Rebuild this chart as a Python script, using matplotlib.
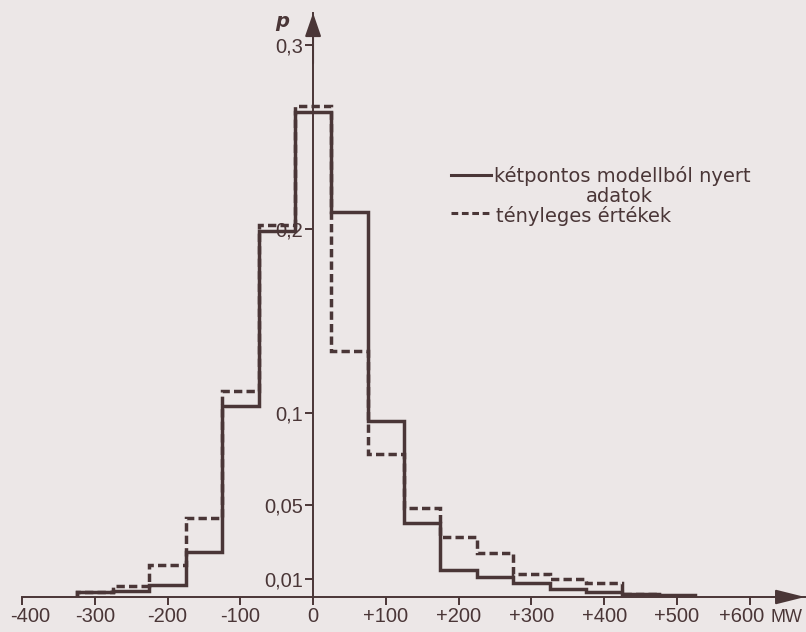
import matplotlib
matplotlib.use("Agg")
import matplotlib.pyplot as plt
import matplotlib.transforms as mtransforms
from matplotlib.lines import Line2D
import numpy as np

# bin edges in MW (50 MW wide bins)
bin_edges = [-325, -275, -225, -175, -125, -75, -25, 25, 75, 125,
             175, 225, 275, 325, 375, 425, 475, 525]

# probability per bin
model_p = [0.0025, 0.0035, 0.0065, 0.0245, 0.104, 0.199, 0.2635, 0.209, 0.0956,
           0.0404, 0.0147, 0.011, 0.0075, 0.0045, 0.0026, 0.0015, 0.0012]
actual_p = [0.0027, 0.006, 0.0176, 0.043, 0.112, 0.2024, 0.2666, 0.1335, 0.0775,
            0.0486, 0.0327, 0.024, 0.0127, 0.0097, 0.0075, 0.0015, 0.0008]

x_ticks = [-400, -300, -200, -100, 0, 100, 200, 300, 400, 500, 600]
x_labels = ["-400", "-300", "-200", "-100", "0", "+100", "+200", "+300",
            "+400", "+500", "+600"]
y_ticks = [0.01, 0.05, 0.1, 0.2, 0.3]
y_labels = ["0,01", "0,05", "0,1", "0,2", "0,3"]

label_model = "kétpontos modellból nyert"
label_model2 = "adatok"
label_actual = "tényleges értékek"

W, H = 806, 632
BG = "#ece7e7"
INK = "#4a3637"
TICK_FONT = ["Liberation Sans", "DejaVu Sans"]


def px(x, y):
    return x / W, 1 - y / H


def shift(artist, fig, dx):
    artist.set_transform(artist.get_transform() +
                         mtransforms.ScaledTranslation(dx / 100, 0, fig.dpi_scale_trans))


def main():
    plt.rcParams["font.family"] = ["DejaVu Sans"]
    fig = plt.figure(figsize=(W / 100, H / 100), dpi=100, facecolor=BG)
    ax = fig.add_axes([22 / W, 35 / H, 783 / W, 584 / H])
    ax.set_facecolor(BG)
    ax.set_xlim(-400, 676)
    ax.set_ylim(0, 0.3174)

    ax.stairs(model_p, bin_edges, baseline=0, color=INK, lw=2.5, zorder=3)
    ax.stairs(actual_p, bin_edges, baseline=0, color=INK, lw=2.5,
              linestyle=(0, (2.4, 1.2)), zorder=4)

    for s in ["top", "right"]:
        ax.spines[s].set_visible(False)
    ax.spines["left"].set_position(("data", 0))
    for s in ["left", "bottom"]:
        ax.spines[s].set_color(INK)
        ax.spines[s].set_linewidth(1.4)

    ax.set_xticks(x_ticks)
    ax.set_xticklabels(x_labels, family=TICK_FONT)
    ax.set_yticks(y_ticks)
    ax.set_yticklabels(y_labels, family=TICK_FONT)
    ax.tick_params(axis="both", direction="out", length=6, width=1.4,
                   pad=1, labelsize=14.5, colors=INK)

    # nudge the end labels like in the original drawing
    shift(ax.get_xticklabels()[0], fig, 8)
    shift(ax.get_xticklabels()[-1], fig, -8)
    ax.annotate("MW", xy=(600, 0), xycoords="data", xytext=(15, -15),
                textcoords="offset points", fontsize=13, color=INK,
                family=TICK_FONT, ha="left", va="center")

    # arrow heads on the axes
    ax.annotate("", xy=(676, 0), xytext=(630, 0),
                arrowprops=dict(arrowstyle="-|>,head_length=1.8,head_width=0.45",
                                mutation_scale=10, color=INK, lw=1.4,
                                shrinkA=0, shrinkB=0), annotation_clip=False)
    ax.annotate("", xy=(0, 0.3174), xytext=(0, 0.29),
                arrowprops=dict(arrowstyle="-|>,head_length=1.45,head_width=0.5",
                                mutation_scale=10, color=INK, lw=1.4,
                                shrinkA=0, shrinkB=0), annotation_clip=False)
    ax.annotate("p", xy=(0, 0.3174), xycoords="data", xytext=(-22, -6),
                textcoords="offset points", fontsize=14, color=INK,
                style="italic", fontweight="bold", ha="center", va="center")

    # hand drawn style legend
    fig.add_artist(Line2D([px(451, 0)[0], px(491, 0)[0]], [px(0, 175)[1]] * 2,
                          transform=fig.transFigure, color=INK, lw=2.2))
    fig.add_artist(Line2D([px(451, 0)[0], px(491, 0)[0]], [px(0, 213)[1]] * 2,
                          transform=fig.transFigure, color=INK, lw=2.2,
                          linestyle=(0, (2.2, 1.2))))
    fig.text(*px(494, 182), label_model, fontsize=14, color=INK,
             ha="left", va="baseline")
    fig.text(*px(619, 202), label_model2, fontsize=14, color=INK,
             ha="center", va="baseline")
    fig.text(*px(496, 222), label_actual, fontsize=14, color=INK,
             ha="left", va="baseline")

    fig.savefig("out.png", dpi=100, facecolor=BG)


if __name__ == "__main__":
    main()
